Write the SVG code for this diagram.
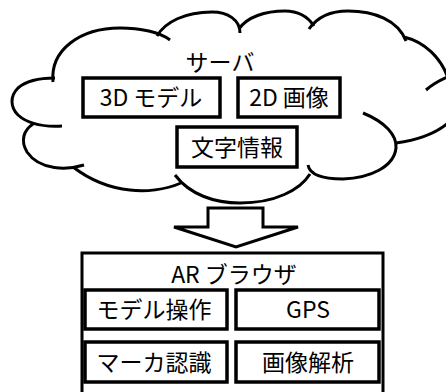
<svg xmlns="http://www.w3.org/2000/svg" width="446" height="392" viewBox="0 0 446 392">
<style>
.c{fill:none;stroke:#000;stroke-width:3;stroke-linecap:butt}
.b{fill:#fff;stroke:#000;stroke-width:3.5}
.t{font-family:"Noto Sans CJK JP","Noto Sans",sans-serif;font-size:23px;fill:#000;text-anchor:middle}
</style>
<rect width="446" height="392" fill="#fff"/>
<g id="server">
<g id="cloud">
<path class="c" d="M53,82 C50,50 80,28 120,28 C140,28 160,32 170,40"/>
<path class="c" d="M157,36 C165,22 185,12 212,12 C228,12 240,20 240,33"/>
<path class="c" d="M239,29 C247,17 265,11 285,11 C298,11 308,17 314,26"/>
<path class="c" d="M309,29 C318,16 332,11 348,11 C374,11 398,20 406,41"/>
<path class="c" d="M404,37 C425,42 441,58 448,78"/>
<path class="c" d="M426,90 C433,84 440,80 450,76"/>
<path class="c" d="M458,112 C447,128 425,139 396,143"/>
<path class="c" d="M363,113 C385,122 397,135 396,148 C394,167 370,178 343,179 C325,179 310,176 308,165"/>
<path class="c" d="M310,174 C300,190 275,203 240,203 C215,203 190,195 175,175"/>
<path class="c" d="M181,183 C165,190 145,192 130,190 C110,188 90,180 73,167"/>
<path class="c" d="M84,165 C68,170 40,171 27,152 C20,140 24,130 33,124"/>
<path class="c" d="M62,126 C45,127 28,124 18,115 C10,107 10,96 18,88 C26,81 40,78 55,78"/>
</g>
<text class="t" x="220" y="71">サーバ</text>
</g>
<g id="model3d"><rect class="b" x="83" y="78" width="137" height="39"/><text class="t" x="151" y="106">3D モデル</text></g>
<g id="image2d"><rect class="b" x="238" y="78" width="102" height="39"/><text class="t" x="289" y="106">2D 画像</text></g>
<g id="textinfo"><rect class="b" x="177" y="127" width="120" height="40"/><text class="t" x="237" y="156">文字情報</text></g>
<g id="connectors">
<polygon points="208,208 263,208 263,227 298,227 236,247 174,227 208,227" fill="#fff" stroke="#000" stroke-width="3" stroke-linejoin="miter"/>
</g>
<g id="arbrowser">
<rect x="82" y="253" width="301" height="145" fill="#fff" stroke="#000" stroke-width="3"/>
<text class="t" x="234" y="283">AR ブラウザ</text>
</g>
<g id="modelop"><rect class="b" x="85" y="290" width="142" height="39"/><text class="t" x="154" y="318">モデル操作</text></g>
<g id="gps"><rect class="b" x="236" y="290" width="143" height="39"/><text class="t" x="308" y="318">GPS</text></g>
<g id="marker"><rect class="b" x="85" y="342" width="142" height="40"/><text class="t" x="154" y="371">マーカ認識</text></g>
<g id="imageanalysis"><rect class="b" x="236" y="342" width="143" height="40"/><text class="t" x="308" y="371">画像解析</text></g>
</svg>
